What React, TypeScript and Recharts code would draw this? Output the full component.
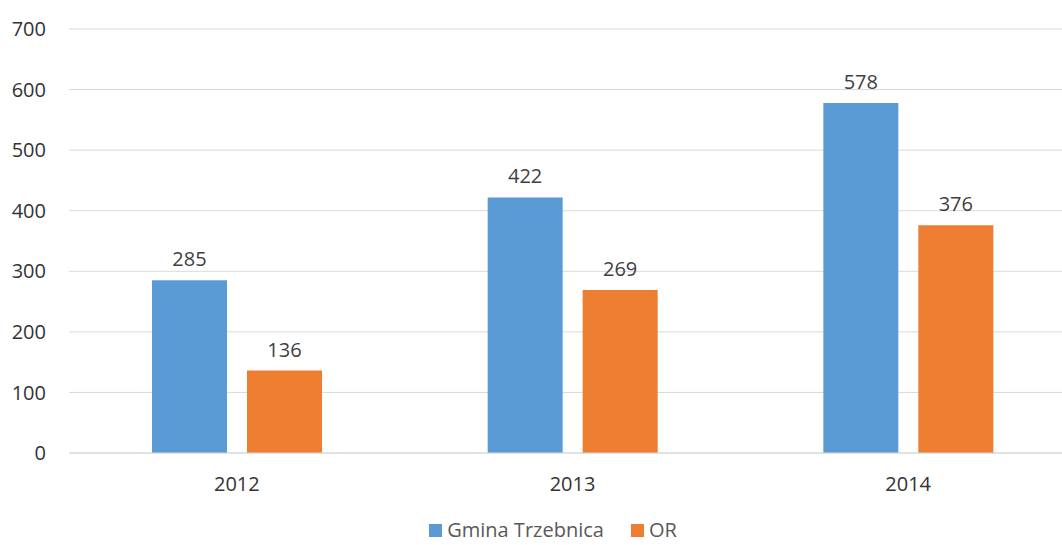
import React from "react";
import { BarChart, Bar, XAxis, YAxis, CartesianGrid, Legend, LabelList } from "recharts";

const categories = ["2012", "2013", "2014"];
const gminaTrzebnica = [285, 422, 578];
const orValues = [136, 269, 376];
const yTicks = [0, 100, 200, 300, 400, 500, 600, 700];

const data = categories.map((c, i) => ({ year: c, gmina: gminaTrzebnica[i], or: orValues[i] }));

const FONT = "'Open Sans', 'Noto Sans', sans-serif";

const LegendContent = () => (
  <div style={{ height: 40, boxSizing: "border-box", paddingTop: 14 }}>
    <div style={{ display: "flex", justifyContent: "center", alignItems: "center", height: 22, lineHeight: "22px", fontFamily: FONT, fontSize: 20, color: "#595959" }}>
      <span style={{ display: "inline-block", width: 13, height: 13, background: "#5B9BD5", marginRight: 5 }} />
      <span style={{ marginRight: 27 }}>Gmina Trzebnica</span>
      <span style={{ display: "inline-block", width: 13, height: 13, background: "#ED7D31", marginRight: 5 }} />
      <span>OR</span>
    </div>
  </div>
);

export default function App() {
  return (
    <div style={{ position: "absolute", left: 0, top: 0, width: 1062, height: 545, overflow: "hidden", background: "#fff" }}>
      <BarChart width={1076} height={545} data={data} margin={{ top: 29, right: 0, left: 0, bottom: 0 }} barGap={20}>
        <CartesianGrid vertical={false} stroke="#D9D9D9" />
        <XAxis
          dataKey="year"
          axisLine={{ stroke: "#D9D9D9" }}
          tickLine={false}
          tickSize={0}
          tickMargin={24}
          height={52}
          tick={{ fill: "#333", fontSize: 20, fontFamily: FONT }}
        />
        <YAxis
          domain={[0, 700]}
          ticks={yTicks}
          axisLine={false}
          tickLine={false}
          tickSize={0}
          tickMargin={23}
          width={69}
          tick={{ fill: "#333", fontSize: 20, fontFamily: FONT }}
        />
        <Legend verticalAlign="bottom" content={<LegendContent />} wrapperStyle={{ height: 40, bottom: 0, left: 0, width: 1106 }} />
        <Bar dataKey="gmina" name="Gmina Trzebnica" fill="#5B9BD5" barSize={75} isAnimationActive={false}>
          <LabelList dataKey="gmina" position="top" offset={14} fill="#404040" fontSize={20} fontFamily={FONT} />
        </Bar>
        <Bar dataKey="or" name="OR" fill="#ED7D31" barSize={75} isAnimationActive={false}>
          <LabelList dataKey="or" position="top" offset={14} fill="#404040" fontSize={20} fontFamily={FONT} />
        </Bar>
      </BarChart>
    </div>
  );
}
